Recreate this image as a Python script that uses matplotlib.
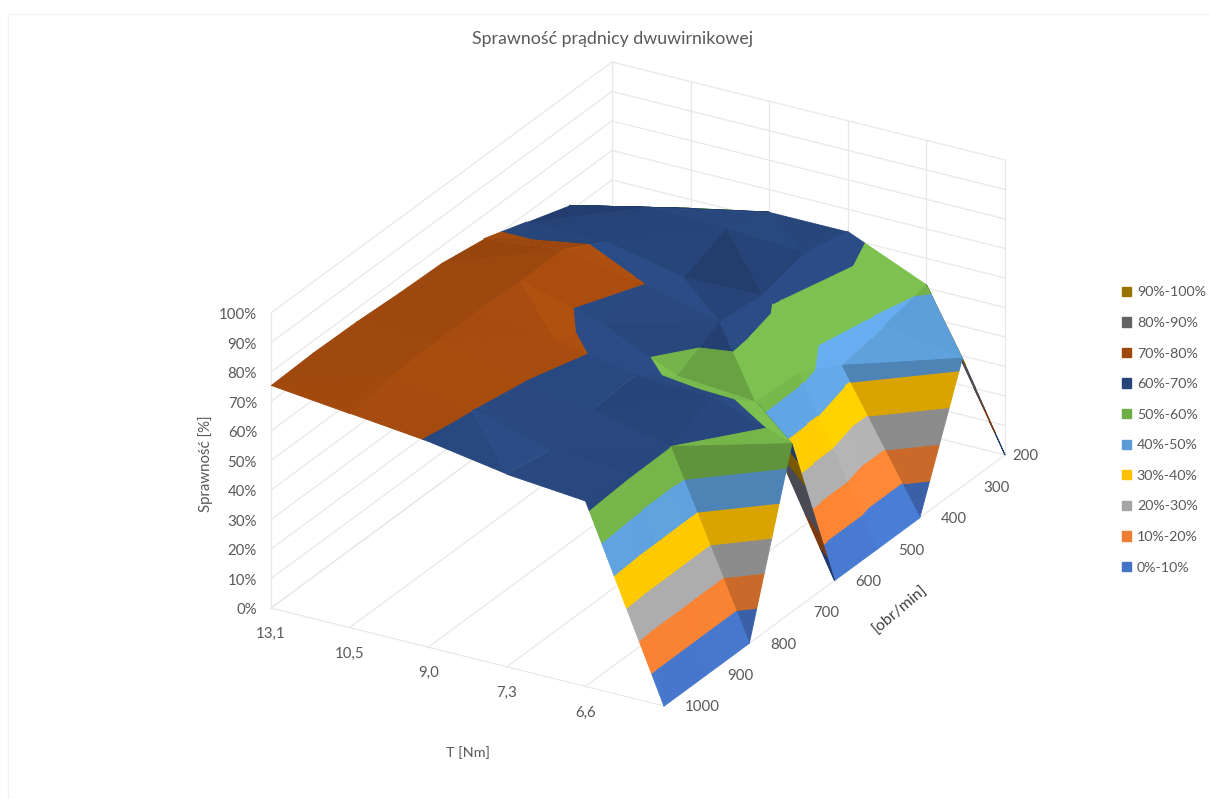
import numpy as np
import matplotlib
matplotlib.use("Agg")
import matplotlib.pyplot as plt
from matplotlib.colors import to_rgb
from matplotlib.lines import Line2D
from matplotlib.patches import Patch
from mpl_toolkits.mplot3d import proj3d
from mpl_toolkits.mplot3d.art3d import Poly3DCollection

plt.rcParams["font.family"] = ["Lato", "DejaVu Sans"]

WIDTH, HEIGHT = 1209, 799
TEXT_COLOR = "#595959"
GRID_COLOR = "#e8e8e8"
ELEV, AZIM = 25.37, -59.8

# torque labels along the front edge, the last data row has no label
torque_labels = ["13,1", "10,5", "9,0", "7,3", "6,6"]
speed_labels = ["1000", "900", "800", "700", "600", "500", "400", "300", "200"]

# efficiency [%] for 1000...200 obr/min, one list per torque row
eff_13_1 = [75.6, 76.1, 75.8, 74.9, 74.4, 72.0, 67.0, 62.0, 51.0]
eff_10_5 = [72.7, 75.0, 75.5, 75.5, 75.0, 75.0, 67.0, 68.0, 57.0]
eff_9_0 = [69.8, 70.2, 70.8, 72.0, 67.6, 70.3, 61.5, 67.6, 62.4]
eff_7_3 = [65.4, 63.0, 66.0, 67.0, 56.0, 63.7, 62.2, 65.8, 62.4]
eff_6_6 = [63.0, 60.5, 60.0, 66.0, 53.8, 53.0, 45.0, 47.5, 51.0]
eff_last = [0.0, 0.0, 0.0, 57.0, 0.0, 0.0, 0.0, 43.4, 0.0]

band_labels = ["0%-10%", "10%-20%", "20%-30%", "30%-40%", "40%-50%",
               "50%-60%", "60%-70%", "70%-80%", "80%-90%", "90%-100%"]
band_colors = ["#4472c4", "#ed7d31", "#a5a5a5", "#ffc000", "#5b9bd5",
               "#70ad47", "#264478", "#9e480e", "#636363", "#997300"]
# the underside of the surface has its own darker palette
under_colors = ["#223a68", "#7a3a10", "#4a4a55", "#4a4a55", "#7a5a00",
                "#223a68", "#223a68", "#7a3a10", "#4a4a55", "#7a5a00"]

eff = np.array([eff_13_1, eff_10_5, eff_9_0, eff_7_3, eff_6_6, eff_last])
box_size = np.array([454.7, 677.8, 326.5])
# cells where the split runs along the other diagonal than the height rule gives
flipped_cells = {(3, 3), (3, 4), (2, 6)}


def clip_band(poly, level, keep_above):
    """cut a polygon with a horizontal plane"""
    out = []
    for k in range(len(poly)):
        p, q = poly[k], poly[(k + 1) % len(poly)]
        p_in = p[2] >= level if keep_above else p[2] <= level
        q_in = q[2] >= level if keep_above else q[2] <= level
        if p_in:
            out.append(p)
        if p_in != q_in:
            t = (level - p[2]) / (q[2] - p[2])
            out.append(tuple(p[m] + t * (q[m] - p[m]) for m in range(3)))
    return out


def facet_normal(tri):
    """unit normal of a facet, pointing up"""
    pts = np.array(tri) * box_size / np.array([5, 8, 100])
    n = np.cross(pts[1] - pts[0], pts[2] - pts[0])
    if n[2] < 0:
        n = -n
    return n / np.linalg.norm(n)


def is_underside(tri):
    """True when the facet is seen from below"""
    e, a = np.radians(ELEV), np.radians(AZIM)
    view = np.array([np.cos(e) * np.cos(a), np.cos(e) * np.sin(a), np.sin(e)])
    return np.dot(facet_normal(tri), view) < 0


def add_triangle(ax, tri, order):
    """draw one facet split into the colour bands"""
    n = facet_normal(tri)
    under = is_underside(tri)
    shade = np.clip(1 + 0.5 * n[0] + 0.25 * n[1] - 0.7 * (1 - n[2]), 0.85, 1.12)
    polys, colors = [], []
    for b in range(len(band_colors)):
        part = clip_band(tri, b * 10, True)
        if part:
            part = clip_band(part, (b + 1) * 10, False)
        if len(part) >= 3:
            polys.append(part)
            if under:
                colors.append(to_rgb(under_colors[b]))
            else:
                colors.append(np.clip(np.array(to_rgb(band_colors[b])) * shade, 0, 1))
    if polys:
        coll = Poly3DCollection(polys, facecolors=colors, edgecolors=colors,
                                linewidths=0.7, zorder=order)
        ax.add_collection3d(coll, autolim=False)


def draw_surface(ax):
    """draw cells from the back corner to the front"""
    order = 3
    pt = lambda i, j: (i, j, eff[i, j])
    for i in range(eff.shape[0] - 1):
        for j in range(eff.shape[1] - 2, -1, -1):
            a, b, c, d = pt(i, j), pt(i + 1, j), pt(i, j + 1), pt(i + 1, j + 1)
            main_diag = abs(a[2] - d[2]) <= abs(b[2] - c[2])
            if (i, j) in flipped_cells:
                main_diag = not main_diag
            if main_diag:
                tris = [(a, c, d), (a, b, d)]
            else:
                tris = [(a, b, c), (b, c, d)]
            # a facet seen from below always lies behind its neighbour
            tris.sort(key=lambda t: not is_underside(t))
            for tri in tris:
                add_triangle(ax, tri, order)
                order += 1
    return order


def draw_grid(ax):
    """walls and floor lines"""
    line = dict(color=GRID_COLOR, lw=0.9, zorder=1)
    n_t = eff.shape[0] - 1
    n_s = eff.shape[1] - 1
    for z in range(0, 101, 10):
        ax.plot([0, 0], [0, n_s], [z, z], **line)
        ax.plot([0, n_t], [n_s, n_s], [z, z], **line)
    for i in range(n_t + 1):
        ax.plot([i, i], [n_s, n_s], [0, 100], **line)
        ax.plot([i, i], [0, n_s], [0, 0], **line)
    ax.plot([0, 0], [0, 0], [0, 100], **line)
    ax.plot([0, n_t], [0, 0], [0, 0], **line)


def place_axes(ax):
    """put the box so that its floor corners land on the wanted pixels"""
    xs, ys, _ = proj3d.proj_transform(np.array([0.0, 5.0]), np.array([0.0, 8.0]),
                                      np.array([0.0, 0.0]), ax.get_proj())
    view = ax.viewLim
    size = (1005 - 271) / ((xs[1] - xs[0]) / view.width)
    left = 271 - size * (xs[0] - view.x0) / view.width
    bottom = (HEIGHT - 608) - size * (ys[0] - view.y0) / view.height
    ax.set_position([left / WIDTH, bottom / HEIGHT, size / WIDTH, size / HEIGHT])


fig = plt.figure(figsize=(WIDTH / 100, HEIGHT / 100), dpi=100)
ax = fig.add_axes([0, 0, 1, 1], projection="3d", proj_type="ortho", computed_zorder=False)
ax.set_box_aspect(box_size)
ax.view_init(elev=ELEV, azim=AZIM)
ax.set_xlim(0, 5, view_margin=0)
ax.set_ylim(0, 8, view_margin=0)
ax.set_zlim(0, 100, view_margin=0)
ax.set_xticks([])
ax.set_yticks([])
ax.set_zticks([])
ax.set_axis_off()
ax.patch.set_alpha(0)
place_axes(ax)

draw_grid(ax)
top = draw_surface(ax)

for z in range(0, 101, 10):
    ax.text(-0.133, -0.083, z - 0.7, f"{z}%", ha="right", va="center",
            color=TEXT_COLOR, fontsize=10.8, zorder=top)
for i, label in enumerate(torque_labels):
    ax.text(i + 0.336, -0.62, 0, label, ha="center", va="center",
            color=TEXT_COLOR, fontsize=10.8, zorder=top)
for j, label in enumerate(speed_labels):
    # the last label sits closer to the corner
    pad = 0.066 if j == len(speed_labels) - 1 else 0.2
    ax.text(5 + pad, j + pad * 0.624, -0.5, label, ha="left", va="center",
            color=TEXT_COLOR, fontsize=10.8, zorder=top)

fig.text(612.5 / WIDTH, 1 - 39 / HEIGHT, "Sprawność prądnicy dwuwirnikowej", ha="center",
         va="center", color=TEXT_COLOR, fontsize=12.8)
fig.text(206 / WIDTH, 1 - 464 / HEIGHT, "Sprawność [%]", rotation=90, ha="center",
         va="center", color=TEXT_COLOR, fontsize=10.8)
fig.text(468 / WIDTH, 1 - 753 / HEIGHT, "T [Nm]", ha="center", va="center",
         color=TEXT_COLOR, fontsize=10.4)
fig.text(900 / WIDTH, 1 - 610 / HEIGHT, "[obr/min]", rotation=40, ha="center",
         va="center", color="#404040", fontsize=11.4)

handles = [Patch(color=c) for c in band_colors[::-1]]
fig.legend(handles, band_labels[::-1], loc="center left", frameon=False,
           bbox_to_anchor=(1122 / WIDTH, 1 - 430 / HEIGHT), borderaxespad=0, borderpad=0,
           handlelength=0.62, handleheight=0.62, handletextpad=0.42, labelspacing=1.3,
           fontsize=10.3, labelcolor=TEXT_COLOR)

# faint chart frame
fig.add_artist(Line2D([8 / WIDTH, 1], [1 - 13.5 / HEIGHT] * 2, color="#f2f2f2", lw=1))
fig.add_artist(Line2D([8 / WIDTH] * 2, [0, 1 - 13.5 / HEIGHT], color="#f2f2f2", lw=1))

fig.savefig("out.png", dpi=100, facecolor="white")
